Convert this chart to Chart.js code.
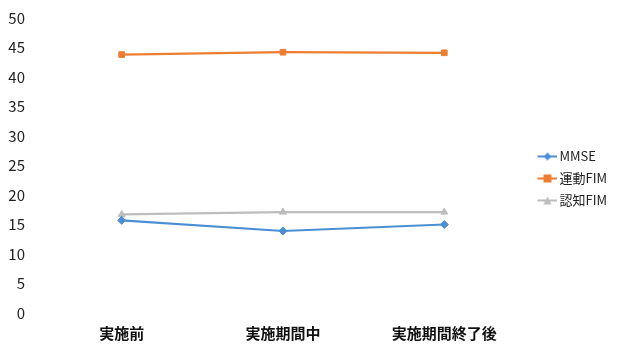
<!DOCTYPE html>
<html>
<head>
<meta charset="utf-8">
<script src="https://cdn.jsdelivr.net/npm/chart.js@4"></script>
<style>
  html, body { margin: 0; padding: 0; background: #fff; }
  #wrap { width: 620px; height: 345px; }
</style>
</head>
<body>
<div id="wrap"><canvas id="fimChart" width="620" height="345"></canvas></div>
<script>
// 評価時期
const periods = ["実施前", "実施期間中", "実施期間終了後"];

// 各スコア
const mmse = [15.7, 13.9, 15.0];
const motorFim = [43.8, 44.2, 44.1];
const cognitiveFim = [16.7, 17.1, 17.1];

const yTicks = { min: 0, max: 50, step: 5 };

const FONT = '"Noto Sans CJK JP", "Noto Sans", sans-serif';
const ICON_BOX = 19; // 凡例アイコンの枠幅

// 凡例用の小さなアイコン（線＋マーカー）。左右に余白を持たせて文字に近づける
function legendIcon(color, shape) {
  const c = document.createElement("canvas");
  c.width = 28;
  c.height = 10;
  const g = c.getContext("2d");
  const x0 = 8, x1 = 28, mx = 18;
  g.strokeStyle = color;
  g.fillStyle = color;
  g.lineWidth = 2;
  g.beginPath();
  g.moveTo(x0, 5);
  g.lineTo(x1, 5);
  g.stroke();
  g.beginPath();
  if (shape === "rectRot") {
    g.moveTo(mx, 1); g.lineTo(mx + 4, 5); g.lineTo(mx, 9); g.lineTo(mx - 4, 5);
  } else if (shape === "rect") {
    g.rect(mx - 4, 1, 8, 8);
  } else {
    g.moveTo(mx, 1); g.lineTo(mx + 4, 9); g.lineTo(mx - 4, 9);
  }
  g.closePath();
  g.fill();
  return c;
}

const series = [
  { label: "MMSE", data: mmse, color: "#4a8fd4", shape: "rectRot" },
  { label: "運動FIM", data: motorFim, color: "#ed7d31", shape: "rect" },
  { label: "認知FIM", data: cognitiveFim, color: "#bdbdbd", shape: "triangle" },
];

const ctx = document.getElementById("fimChart").getContext("2d");
new Chart(ctx, {
  type: "line",
  data: {
    labels: periods,
    datasets: series.map((s) => ({
      label: s.label,
      data: s.data,
      borderColor: s.color,
      backgroundColor: s.color,
      borderWidth: 2.2,
      pointStyle: s.shape,
      pointRadius: 4,
      pointBorderWidth: 1,
      tension: 0,
    })),
  },
  options: {
    responsive: false,
    animation: false,
    layout: { padding: { left: 0, right: 3, top: 12, bottom: 0 } },
    plugins: {
      tooltip: { enabled: false },
      legend: {
        position: "right",
        align: "center",
        labels: {
          usePointStyle: true,
          pointStyleWidth: ICON_BOX,
          color: "#222",
          font: { family: FONT, size: 13 },
          padding: 9,
          generateLabels: (chart) =>
            series.map((s, i) => ({
              text: s.label,
              pointStyle: legendIcon(s.color, s.shape),
              fontColor: "#222",
              datasetIndex: i,
              hidden: false,
              lineWidth: 0,
            })),
        },
      },
    },
    scales: {
      x: {
        offset: true,
        grid: { display: false },
        border: { display: false },
        afterFit: (scale) => { scale.height = 32; },
        ticks: {
          color: "#111",
          font: { family: FONT, size: 15, weight: "bold", lineHeight: 1 },
          padding: 5,
        },
      },
      y: {
        min: yTicks.min,
        max: yTicks.max,
        grid: { display: false },
        border: { display: false },
        afterFit: (scale) => {
          scale.width = 41;
          scale.paddingTop = 18;
          scale.paddingBottom = 0;
        },
        ticks: {
          stepSize: yTicks.step,
          color: "#222",
          font: { family: FONT, size: 15 },
          padding: 8,
        },
      },
    },
  },
});
</script>
</body>
</html>
